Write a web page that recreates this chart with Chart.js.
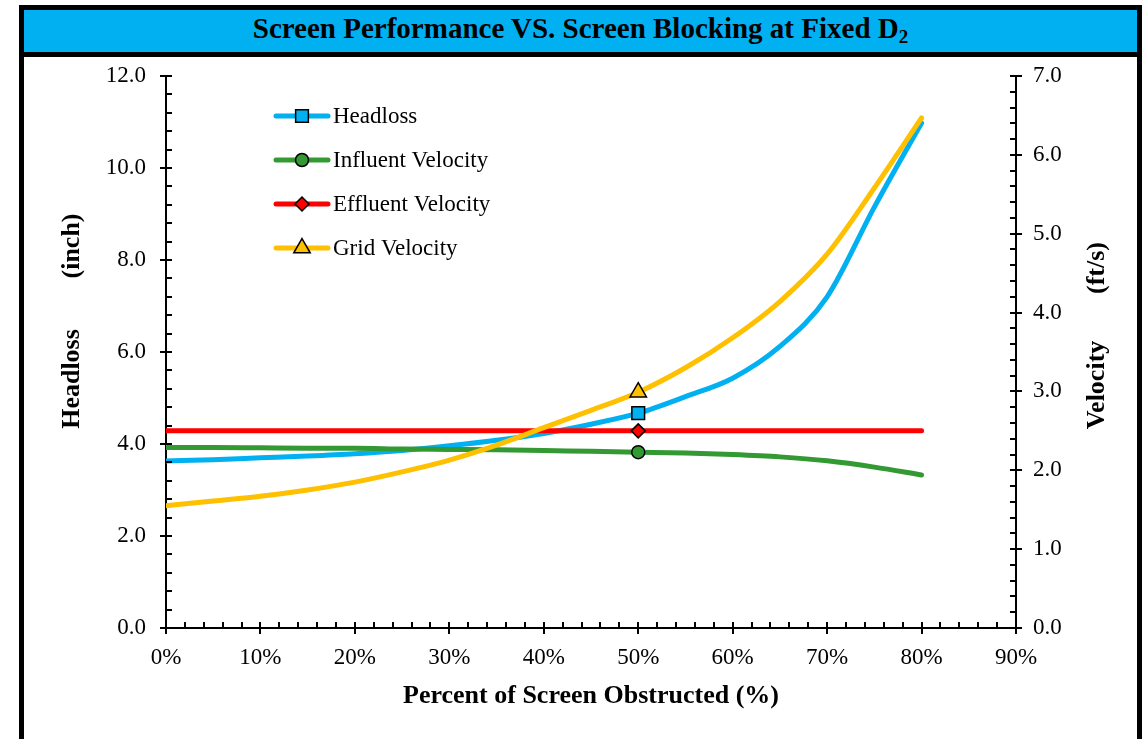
<!DOCTYPE html>
<html>
<head>
<meta charset="utf-8">
<script src="https://cdn.jsdelivr.net/npm/chart.js@4"></script>
<style>
  html, body { margin:0; padding:0; background:#fff; width:1147px; height:739px; overflow:hidden; }
  #frame { position:absolute; left:19px; top:5px; width:1123px; height:800px; box-sizing:border-box;
           border:5px solid #000; border-bottom:none; }
  #title { position:absolute; left:0; top:0; width:1113px; height:42px; background:#00B0F0;
           border-bottom:5px solid #000; text-align:center; font-family:"Liberation Serif", serif;
           font-weight:bold; font-size:29px; line-height:36px; color:#000; overflow:hidden; }
  #title sub { font-size:19px; line-height:0; vertical-align:-5px; }
  #wrap { position:absolute; left:24px; top:57px; width:1113px; height:682px; }
</style>
</head>
<body>
<div id="frame"><div id="title">Screen Performance VS. Screen Blocking at Fixed D<sub>2</sub></div></div>
<div id="wrap"><canvas id="c" width="1113" height="682"></canvas></div>
<script>
// ---- data ----
const pctObstructed = [0,5,10,15,20,25,30,35,40,45,50,55,60,65,70,75,80];
const headlossInch  = [3.63,3.66,3.70,3.74,3.79,3.86,3.96,4.08,4.23,4.43,4.67,5.03,5.43,6.12,7.20,9.15,10.98];
const influentVel   = [2.29,2.29,2.285,2.28,2.28,2.27,2.265,2.26,2.25,2.24,2.23,2.22,2.20,2.17,2.12,2.04,1.94];
const effluentVel   = [2.50,2.50,2.50,2.50,2.50,2.50,2.50,2.50,2.50,2.50,2.50,2.50,2.50,2.50,2.50,2.50,2.50];
const gridVel       = [1.55,1.61,1.67,1.75,1.85,1.98,2.13,2.32,2.54,2.76,2.99,3.30,3.68,4.14,4.74,5.58,6.47];
const seriesNames   = ["Headloss","Influent Velocity","Effluent Velocity","Grid Velocity"];
const markerAt      = 50; // marker shown at 50 %
const xTickLabels   = ["0%","10%","20%","30%","40%","50%","60%","70%","80%","90%"];
const yLeftTicks    = ["0.0","2.0","4.0","6.0","8.0","10.0","12.0"];
const yRightTicks   = ["0.0","1.0","2.0","3.0","4.0","5.0","6.0","7.0"];

const SERIF = '"Liberation Serif", "Times New Roman", serif';
const pts = arr => pctObstructed.map((p,i)=>({x:p, y:arr[i]}));
const rAt = r => ctx => (pctObstructed[ctx.dataIndex] === markerAt ? r : 0);

function ds(label, arr, color, axis, style, r, order){
  return { label, data: pts(arr), yAxisID: axis, borderColor: color, backgroundColor: color,
    borderWidth: 5, borderCapStyle:'round', cubicInterpolationMode:'monotone',
    pointStyle: style, pointRadius: rAt(r), pointHoverRadius: rAt(r),
    pointBackgroundColor: color, pointBorderColor:'#000', pointBorderWidth:1.5,
    order, _r: r };
}

const datasets = [
  ds(seriesNames[0], headlossInch, '#00B0F0', 'y',  'rect',     9,   4),
  ds(seriesNames[1], influentVel,  '#339933', 'y1', 'circle',   6.5, 3),
  ds(seriesNames[2], effluentVel,  '#FF0000', 'y1', 'rectRot',  7,   2),
  ds(seriesNames[3], gridVel,      '#FFC000', 'y1', 'triangle', 9.5, 1)
];

// tick marks (major crossing, minor inside)
const tickPlugin = {
  id:'ticks',
  afterDraw(chart){
    const {ctx, scales:{x, y, y1}, chartArea:a} = chart;
    ctx.save(); ctx.strokeStyle='#000'; ctx.lineWidth=2; ctx.beginPath();
    for (let v=0; v<=90; v+=2){
      const px = Math.round(x.getPixelForValue(v));
      if (v%10===0){ ctx.moveTo(px,a.bottom-6); ctx.lineTo(px,a.bottom+6); }
      else { ctx.moveTo(px,a.bottom); ctx.lineTo(px,a.bottom-6); }
    }
    for (let i=0;i<=30;i++){
      const py = Math.round(y.getPixelForValue(i*0.4));
      if (i%5===0){ ctx.moveTo(a.left-6,py); ctx.lineTo(a.left+6,py); }
      else { ctx.moveTo(a.left,py); ctx.lineTo(a.left+6,py); }
    }
    for (let i=0;i<=35;i++){
      const py = Math.round(y1.getPixelForValue(i*0.2));
      if (i%5===0){ ctx.moveTo(a.right-6,py); ctx.lineTo(a.right+6,py); }
      else { ctx.moveTo(a.right,py); ctx.lineTo(a.right-6,py); }
    }
    ctx.stroke(); ctx.restore();
  }
};

// legend drawn inside the plot + rotated axis titles
const extrasPlugin = {
  id:'extras',
  afterDraw(chart){
    const ctx = chart.ctx;
    ctx.save();
    const rows = [59, 103, 147, 191];
    chart.data.datasets.forEach((d,i)=>{
      const yy = rows[i];
      ctx.strokeStyle = d.borderColor; ctx.lineWidth = 5; ctx.lineCap='round';
      ctx.beginPath(); ctx.moveTo(252,yy); ctx.lineTo(304,yy); ctx.stroke();
      ctx.fillStyle = d.borderColor; ctx.strokeStyle='#000'; ctx.lineWidth=1.5;
      Chart.helpers.drawPoint(ctx, {pointStyle:d.pointStyle, radius:d._r, rotation:0, borderWidth:1.5}, 278, yy);
      ctx.fillStyle='#000'; ctx.font = '23px '+SERIF; ctx.textAlign='left'; ctx.textBaseline='middle';
      ctx.fillText(d.label, 309, yy+1);
    });
    ctx.font = 'bold 26px '+SERIF; ctx.fillStyle='#000'; ctx.textAlign='center'; ctx.textBaseline='middle';
    // left title
    ctx.save(); ctx.translate(48, 322); ctx.rotate(-Math.PI/2); ctx.fillText('Headloss',0,0); ctx.restore();
    ctx.save(); ctx.translate(48, 189); ctx.rotate(-Math.PI/2); ctx.fillText('(inch)',0,0); ctx.restore();
    // right title
    ctx.save(); ctx.translate(1073, 328); ctx.rotate(-Math.PI/2); ctx.fillText('Velocity',0,0); ctx.restore();
    ctx.save(); ctx.translate(1073, 211); ctx.rotate(-Math.PI/2); ctx.fillText('(ft/s)',0,0); ctx.restore();
    ctx.restore();
  }
};

const tickFont = {family: SERIF, size: 23};
const fitV = w => s => { s.width = w; s.paddingTop = 0; s.paddingBottom = 0; };
new Chart(document.getElementById('c'), {
  type:'line',
  data:{ datasets },
  options:{
    responsive:false, animation:false, events:[],
    layout:{ padding:{top:19, left:0, right:0, bottom:0} },
    plugins:{ legend:{display:false}, tooltip:{enabled:false} },
    scales:{
      x:{ type:'linear', position:'bottom', min:0, max:90,
          grid:{display:false, drawTicks:false}, border:{display:true, color:'#000', width:2},
          ticks:{ stepSize:10, color:'#000', font:tickFont, padding:16, maxRotation:0,
                  callback:(v)=> xTickLabels[Math.round(v/10)] },
          title:{ display:true, text:'Percent of Screen Obstructed (%)', color:'#000',
                  font:{family:SERIF, size:26, weight:'bold'}, padding:{top:0, bottom:27} },
          afterFit:s=>{ s.height = 111; } },
      y:{ type:'linear', position:'left', min:0, max:12,
          grid:{display:false, drawTicks:false}, border:{display:true, color:'#000', width:2},
          ticks:{ stepSize:2, color:'#000', font:tickFont, padding:20,
                  callback:(v)=> yLeftTicks[Math.round(v/2)] },
          afterFit: fitV(142) },
      y1:{ type:'linear', position:'right', min:0, max:7,
          grid:{display:false, drawTicks:false}, border:{display:true, color:'#000', width:2},
          ticks:{ stepSize:1, color:'#000', font:tickFont, padding:17,
                  callback:(v)=> yRightTicks[Math.round(v)] },
          afterFit: fitV(121) }
    }
  },
  plugins:[tickPlugin, extrasPlugin]
});
</script>
</body>
</html>
